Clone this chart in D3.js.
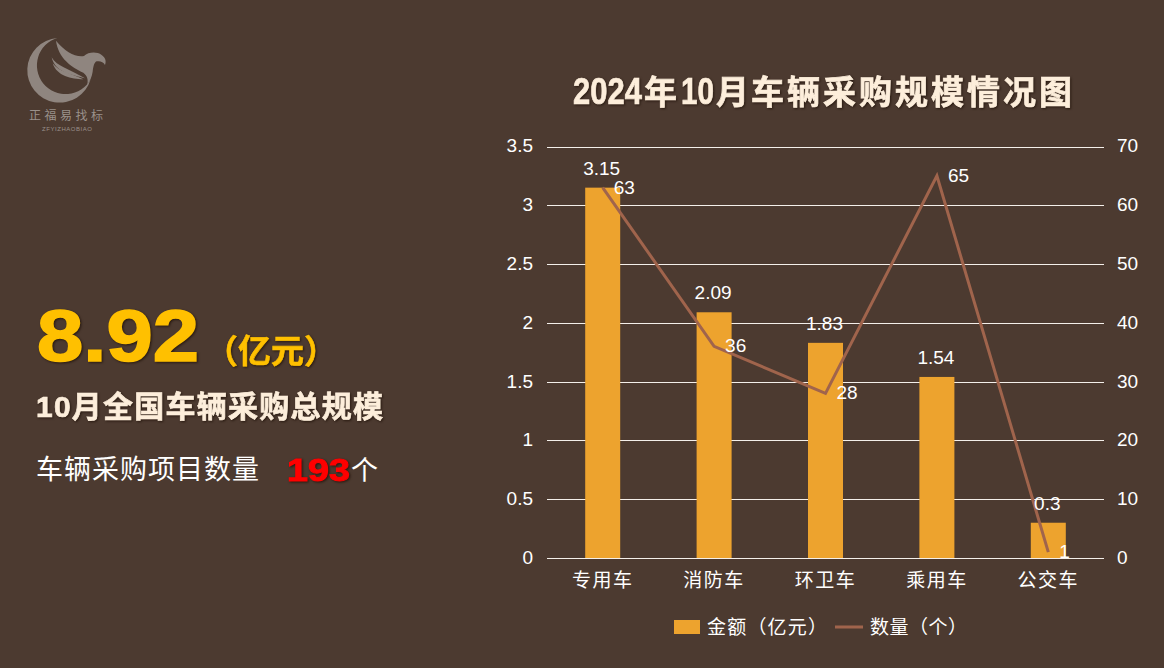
<!DOCTYPE html>
<html><head><meta charset="utf-8">
<script src="https://cdn.jsdelivr.net/npm/d3@7"></script>
<style>
html,body{margin:0;padding:0;background:#4c3a30;overflow:hidden}
svg{display:block}
text{font-family:"Liberation Sans","Noto Sans CJK SC",sans-serif}
.sh{filter:drop-shadow(1.5px 1.5px 1px rgba(30,15,5,.75))}
.lab{fill:#fff;font-size:19px}
</style></head><body>
<svg id="c" width="1164" height="668"></svg>
<script>
const categories=["专用车","消防车","环卫车","乘用车","公交车"];
const amounts=[3.15,2.09,1.83,1.54,0.3];
const counts=[63,36,28,65,1];
const leftTicks=[0,0.5,1,1.5,2,2.5,3,3.5];
const rightTicks=[0,10,20,30,40,50,60,70];
const titleParts=["2024","年","10","月","车辆采购规模情况图"];
const totalValue="8.92";
const totalUnit="（亿元）";
const subtitle="10月全国车辆采购总规模";
const projectLabel="车辆采购项目数量";
const projectCount="193";
const projectUnit="个";
const seriesNames=["金额（亿元）","数量（个）"];

const svg=d3.select("#c");
svg.append("rect").attr("width",1164).attr("height",668).attr("fill","#4c3a30");

const x=d3.scaleBand().domain(categories).range([547,1104]);
const yL=d3.scaleLinear().domain([0,3.5]).range([558,146.5]);
const yR=d3.scaleLinear().domain([0,70]).range([558,146.5]);

// gridlines
svg.append("g").selectAll("line").data(leftTicks).join("line")
 .attr("x1",547).attr("x2",1104).attr("y1",d=>Math.round(yL(d))+.5).attr("y2",d=>Math.round(yL(d))+.5)
 .attr("stroke","#f4efea").attr("stroke-width",1);

// axes
const gl=svg.append("g").attr("transform","translate(547,-0.7)")
 .call(d3.axisLeft(yL).tickValues(leftTicks).tickSize(0).tickPadding(14).tickFormat(d=>String(d)));
const gr=svg.append("g").attr("transform","translate(1104,-0.7)")
 .call(d3.axisRight(yR).tickValues(rightTicks).tickSize(0).tickPadding(13));
const gb=svg.append("g").attr("transform","translate(0,558)")
 .call(d3.axisBottom(x).tickSize(0).tickPadding(16));
[gl,gr,gb].forEach(g=>{g.select(".domain").remove();g.selectAll("text").style("font-family",'"Liberation Sans","Noto Sans CJK SC",sans-serif').style("font-size","19px").attr("fill","#fff");});
gb.selectAll("text").style("letter-spacing","1.5px");

// bars
const bw=35;
svg.append("g").selectAll("rect").data(categories).join("rect")
 .attr("x",d=>x(d)+x.bandwidth()/2-bw/2).attr("width",bw)
 .attr("y",(d,i)=>yL(amounts[i])).attr("height",(d,i)=>558-yL(amounts[i]))
 .attr("fill","#eda32e");

// line
const line=d3.line().x((d,i)=>x(categories[i])+x.bandwidth()/2).y(d=>yR(d));
svg.append("path").datum(counts).attr("d",line).attr("fill","none").attr("stroke","#a0644c").attr("stroke-width",3);

// labels
svg.append("g").selectAll("text").data(amounts).join("text").attr("class","lab")
 .attr("x",(d,i)=>x(categories[i])+x.bandwidth()/2-1).attr("y",d=>yL(d)-13).attr("text-anchor","middle").text(d=>d);
svg.append("g").selectAll("text").data(counts).join("text").attr("class","lab")
 .attr("x",(d,i)=>x(categories[i])+x.bandwidth()/2+11).attr("y",d=>yR(d)+6).text(d=>d);

// legend
const ly=627;
svg.append("rect").attr("x",674).attr("y",ly-7).attr("width",26).attr("height",14).attr("fill","#eda32e");
svg.append("text").attr("class","lab").attr("x",707).attr("y",ly+6.5).attr("textLength",120).text(seriesNames[0]);
svg.append("line").attr("x1",835).attr("x2",863).attr("y1",ly).attr("y2",ly).attr("stroke","#a0644c").attr("stroke-width",3);
svg.append("text").attr("class","lab").attr("x",870).attr("y",ly+6.5).attr("textLength",97).text(seriesNames[1]);

// title
const tg=svg.append("g").attr("class","sh").attr("fill","#fdeedb").attr("stroke","#fdeedb").attr("stroke-width",.7).style("font-weight",700);
const partX=[573,644,681,716,751], partW=[69,0,33,0,321], isNum=[1,0,1,0,0];
titleParts.forEach((t,i)=>{
 const el=tg.append("text").style("font-size",isNum[i]?"37px":"33px").text(t);
 if(isNum[i]){
  const n=el.node().getComputedTextLength();
  el.attr("transform",`translate(${partX[i]},104) scale(${partW[i]/n},1)`);
 } else {
  el.attr("x",partX[i]).attr("y",104);
  if(partW[i]) el.attr("textLength",partW[i]);
 }
});

// left panel
const big=svg.append("text").attr("class","sh").attr("fill","#ffc000").attr("stroke","#ffc000").attr("stroke-width",1.6)
 .style("font-size","72px").style("font-weight",700).text(totalValue);
big.attr("transform",`translate(37,360.5) scale(${162/big.node().getComputedTextLength()},1)`);
svg.append("text").attr("class","sh").attr("x",205).attr("y",363).attr("fill","#ffc000").attr("stroke","#ffc000").attr("stroke-width",.6)
 .style("font-size","33px").style("font-weight",700).text(totalUnit);
svg.append("text").attr("class","sh").attr("x",36).attr("y",417).attr("fill","#fdeedb").attr("stroke","#fdeedb").attr("stroke-width",.7)
 .style("font-size","30px").style("font-weight",700).attr("textLength",347).text(subtitle);
svg.append("text").attr("x",36).attr("y",479).attr("fill","#fff").style("font-size","27px").attr("textLength",223).text(projectLabel);
const cnt=svg.append("text").attr("class","sh").attr("fill","#ff0000").attr("stroke","#ff0000").attr("stroke-width",1)
 .style("font-size","32px").style("font-weight",700).text(projectCount);
cnt.attr("transform",`translate(287,480.5) scale(${63/cnt.node().getComputedTextLength()},1)`);
svg.append("text").attr("x",351).attr("y",480).attr("fill","#fff").style("font-size","27px").text(projectUnit);

// logo
const logo=svg.append("g").attr("fill","#8f857f");
const mark=logo.append("g").attr("transform","translate(0,20) scale(0.3333)");
mark.append("path").attr("d","M172 54 A97 97 0 1 0 272 178 A86 86 0 1 1 172 54Z");
mark.append("path").attr("d","M168 62 C195 95 225 112 252 108 C265 96 290 94 305 105 C315 112 320 122 315 135 C310 125 300 122 290 124 C282 128 280 140 278 155 C276 170 270 182 262 195 C265 178 262 168 250 158 C215 142 175 115 168 62Z");
mark.append("path").attr("d","M155 112 C170 140 210 148 255 175 C220 165 165 160 155 112Z");
mark.append("path").attr("d","M158 130 C175 155 215 160 250 178 C215 178 170 168 158 130Z");
logo.append("text").attr("x",29).attr("y",119.5).attr("fill","#9a918b")
 .style("font-size","12px").style("font-family",'"Noto Sans CJK SC"').attr("textLength",74).text("正福易找标");
logo.append("text").attr("x",42).attr("y",131).attr("fill","#9a918b")
 .style("font-size","6px").attr("textLength",50).text("ZFYIZHAOBIAO");
</script></body></html>
